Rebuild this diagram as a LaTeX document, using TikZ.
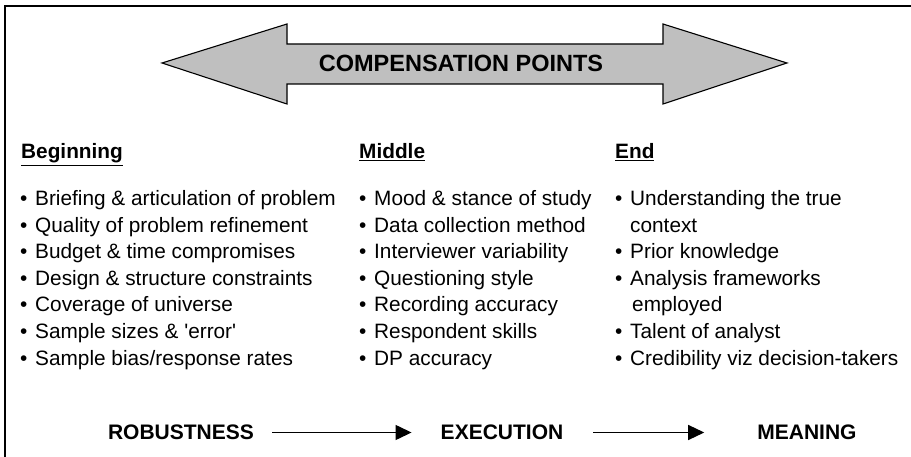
\documentclass[tikz,border=0pt]{standalone}
\usepackage{fontspec}
\setmainfont{Liberation Sans}
\usetikzlibrary{arrows.meta,positioning,calc}

\newcommand{\itm}{\makebox[15pt][l]{•}}
\tikzset{
  colhead/.style={anchor=base west, inner sep=0pt, font=\fontsize{20.8}{25}\selectfont\bfseries},
  item/.style={anchor=base west, inner sep=0pt, font=\fontsize{20.8}{25}\selectfont},
  stage/.style={inner sep=0pt, font=\fontsize{21}{25}\selectfont\bfseries},
  flow/.style={-{Triangle[length=16pt,width=15pt]}, line width=1.3pt},
}

\begin{document}
\begin{tikzpicture}[x=1pt,y=-1pt]
  \useasboundingbox (0,0) rectangle (911,457);

  % Frame (top and left edges only)
  \draw[line width=2.2pt] (5,457) -- (5,6) -- (911,6);

  % Double arrow
  \draw[fill=gray!50, line width=1.1pt, line join=miter]
    (162,63) -- (287,24) -- (287,44) -- (663,44) -- (663,24)
    -- (787,63) -- (663,104) -- (663,84) -- (287,84) -- (287,104) -- cycle;
  \node[anchor=base, inner sep=0pt, font=\fontsize{23.5}{28}\selectfont\bfseries]
    (comp) at (461,71.5) {COMPENSATION POINTS};

  % Column headings
  \node[colhead] (beg) at (21,159) {\underline{Beginning}};
  \node[colhead] (mid) at (359,159) {\underline{Middle}};
  \node[colhead] (end) at (615,159) {\underline{End}};

  % Beginning
  \foreach \txt [count=\i] in {Briefing \& articulation of problem,
      Quality of problem refinement, Budget \& time compromises,
      Design \& structure constraints, Coverage of universe,
      Sample sizes \& \textquotesingle error\textquotesingle,
      Sample bias/response rates}
    \node[item] (b\i) at (20,{205.5+26.6*(\i-1)}) {\itm\txt};

  % Middle
  \foreach \txt [count=\i] in {Mood \& stance of study, Data collection method,
      Interviewer variability, Questioning style, Recording accuracy,
      Respondent skills, DP accuracy}
    \node[item] (m\i) at (359,{205.5+26.6*(\i-1)}) {\itm\txt};

  % End
  \foreach \txt [count=\i] in {\itm Understanding the true,
      \hspace{15pt}context, \itm Prior knowledge, \itm Analysis frameworks,
      \hspace{17pt}employed, \itm Talent of analyst,
      \itm Credibility viz decision-takers}
    \node[item] (e\i) at (615,{205.5+26.6*(\i-1)}) {\txt};

  % Stages
  \node[stage] (rob) at (181,432.5) {ROBUSTNESS};
  \node[stage] (exe) at (502,432.5) {EXECUTION};
  \node[stage] (mea) at (807,432.5) {MEANING};
  \draw[flow, shorten <=18pt, shorten >=29pt] (rob) -- (exe);
  \draw[flow, shorten <=30pt, shorten >=53pt] (exe) -- (mea);
\end{tikzpicture}
\end{document}
